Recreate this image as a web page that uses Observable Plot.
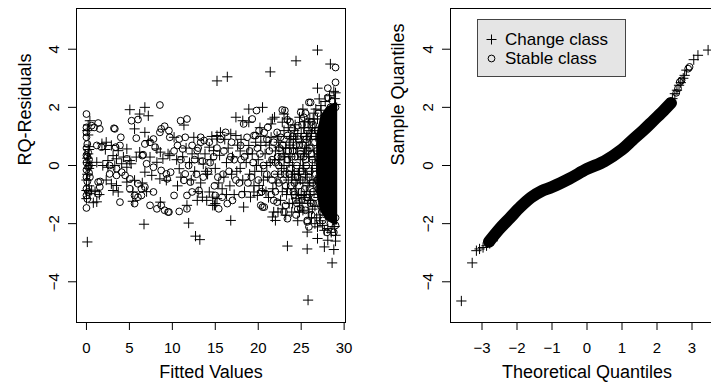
<!DOCTYPE html>
<html><head><meta charset="utf-8">
<script src="https://cdn.jsdelivr.net/npm/d3@7"></script>
<script src="https://cdn.jsdelivr.net/npm/@observablehq/plot@0.6"></script>
<style>
html,body{margin:0;padding:0;background:#fff;}
#wrap{position:relative;width:711px;height:385px;overflow:hidden;font-family:"Liberation Sans",Arial,Helvetica,sans-serif;}
#left{position:absolute;left:0;top:0;width:360px;height:385px;}
#right{position:absolute;left:360px;top:0;width:378px;height:385px;}
#wrap svg{max-width:none !important;}
#legend{position:absolute;left:477px;top:19px;width:147px;height:56px;background:#e5e5e5;border:1px solid #444;box-sizing:content-box;}
#legend .row{position:absolute;left:0;height:19px;font-size:17px;line-height:19px;color:#000;white-space:nowrap;}
#legend svg{position:absolute;left:0;top:0;}
</style></head><body>
<div id="wrap"><div id="left"></div><div id="right"></div><div id="legend"></div></div>
<script>
// ---------- data ----------
const xTitleLeft = "Fitted Values";
const yTitleLeft = "RQ-Residuals";
const xTitleRight = "Theoretical Quantiles";
const yTitleRight = "Sample Quantiles";
const legendLabels = ["Change class", "Stable class"];
const xTicksLeft = [0, 5, 10, 15, 20, 25, 30];
const xTicksRight = [-3, -2, -1, 0, 1, 2, 3];
const yTicks = [-4, -2, 0, 2, 4];

// residual vs fitted, change class (+)
const changePts = [
[0.1,1.2],[0.2,1.05],[0.4,1.54],[0.2,1.39],[0.3,0.55],[0.1,0.25],[0.2,0.1],[0.3,-0.1],[0.1,-0.3],[0.0,-0.86],[0.4,-0.97],[0.0,-1.14],[0.8,-1.28],[0.1,-2.63],[0.3,0.65],[0.5,0.0],[0.6,-0.85],[1.0,-0.9],[1.2,-1.25],[1.8,0.75],[2.3,0.8],[2.9,0.69],[2.2,0.55],[1.2,0.11],[1.9,0.0],[2.5,-0.06],[2.3,-0.5],[2.9,-0.63],[3.1,0.34],[3.5,0.23],[4.3,0.29],[2.5,0.17],[3.7,0.51],[4.7,0.57],[4.1,0.06],[4.7,-0.06],[5.2,0.06],[5.05,0.17],[5.8,0.29],[3.5,-0.69],[4.7,-0.57],[5.6,-0.51],[3.1,-0.86],[3.7,-0.91],[5.4,-0.91],[5.4,-1.23],[5.05,1.92],[6.8,2.0],[6.2,1.77],[7.2,1.71],[5.6,1.26],[6.8,1.14],[7.2,0.86],[8.2,0.57],[8.6,0.46],[9.5,0.4],[6.2,0.46],[7.4,0.29],[8.2,0.11],[8.9,0.23],[9.7,0.34],[6.8,-0.23],[7.6,-0.34],[8.55,-0.46],[9.3,-0.51],[8.6,-1.26],[6.7,-2.02],[3.3,0.0],[1.5,-1.0],[6.5,-0.6],[7.0,-0.9],[0.2,0.4],[0.0,-0.5],[0.3,-0.7],
[11.35,1.39],[17.4,1.66],[18.2,1.54],[18.9,1.49],[18.9,1.94],[10.2,0.97],[15.2,0.91],[15.6,1.14],[16.8,1.09],[17.4,1.03],[18.9,0.69],[19.7,0.8],[14.3,0.63],[14.8,0.51],[10.8,-0.11],[11.0,-0.4],[14.3,-0.91],[14.7,-1.09],[15.2,-1.14],[11.7,-1.37],[12.9,-1.2],[13.5,-1.09],[14.9,-1.37],[15.0,-1.31],[18.3,-1.43],[19.1,-1.09],[11.9,-1.98],[12.7,-2.43],[13.2,-2.55],[16.8,-1.89],[14.7,-1.37],[15.2,2.91],[16.4,3.05],[12.5,0.97],[15.2,1.03],[10.5,0.2],[11.2,0.3],[12.0,0.1],[12.6,-0.2],[13.0,0.25],[13.6,0.05],[14.1,-0.3],[14.5,0.2],[15.0,-0.1],[15.5,0.35],[16.0,-0.4],[16.3,0.1],[16.7,-0.7],[17.0,0.3],[17.5,-0.2],[17.9,0.5],[18.2,-0.5],[18.6,0.1],[19.0,-0.3],[19.3,0.4],[13.3,-0.6],[12.2,-0.5],[10.6,-0.7],[15.8,-0.8],[17.2,-1.0],[18.0,0.9],[16.5,0.6],[13.8,0.4],[11.6,0.6],[19.5,-0.7],
[12.3,0.4],[13.0,-0.9],[13.9,-0.2],[14.6,1.0],[15.4,-0.6],[16.1,0.9],[16.9,-0.3],[17.6,0.7],[18.4,-0.9],[18.8,0.4],[19.6,-0.2],[20.9,-0.9],[21.3,0.7],[20.3,1.0],[17.9,-0.1],[16.3,-1.0],[14.0,-1.2],
[20.5,2.0],[21.65,1.6],[21.5,1.43],[21.9,1.66],[23.0,1.77],[23.4,1.6],[22.8,1.49],[21.5,0.97],[20.9,0.8],[20.3,0.69],[22.4,0.63],[23.6,0.8],[24.4,0.91],[24.8,1.66],[25.2,1.94],[21.4,3.22],[24.4,3.6],[19.5,-0.91],[19.9,-1.03],[20.5,-0.86],[20.1,-0.69],[21.65,-1.77],[22.0,-1.89],[22.8,-1.49],[23.2,-1.71],[23.6,-1.31],[24.4,-1.14],[24.8,-1.26],[25.2,-1.54],[25.0,-1.03],[21.8,-1.6],[23.4,-2.77],[25.7,-2.87],[25.7,-2.29],[25.8,-4.63],
[20.0,0.2],[20.4,-0.2],[20.8,0.4],[21.1,-0.4],[21.4,0.1],[21.7,-0.8],[22.0,0.5],[22.3,-0.3],[22.5,0.2],[22.8,-0.9],[23.0,0.0],[23.2,0.6],[23.5,-0.5],[23.7,0.3],[24.0,-0.2],[24.2,1.2],[24.3,-0.8],[24.6,0.4],[24.9,-0.5],[25.1,0.8],[25.3,-0.1],[20.2,1.3],[22.2,1.0],[23.9,-1.6],[24.6,-1.9],[21.2,-1.1],[22.6,-1.2],[19.8,0.0],[20.6,-0.5],[21.9,0.2],[23.3,-0.2],[24.1,0.6],[24.7,-0.3],[25.4,0.5],[25.2,-0.6],[22.9,0.4],[21.0,0.0],[23.8,1.0],
[22.1,-0.6],[22.4,0.8],[22.7,-0.1],[23.0,1.2],[23.3,-1.0],[23.6,0.1],[23.9,-0.4],[24.1,0.9],[24.4,-0.6],[24.6,1.1],[24.9,0.2],[25.1,-1.3],[25.3,1.3],[25.5,-0.3],[25.6,0.6],[25.8,-0.7],[25.9,0.3],[26.0,-1.0],[26.1,0.9],[26.2,-0.2],[26.3,1.3],[26.4,-0.6],[26.5,0.5],[26.6,-1.4],[26.7,1.0],[26.8,-0.1],[26.9,1.6],[27.0,-1.1],[27.1,0.4],[27.2,-1.9],[27.3,1.9],[27.4,-0.5],[24.0,-1.3],[23.5,1.3],[22.3,-1.6],[24.8,-1.6],[25.4,1.5],[25.9,-1.6],[26.4,1.6],[26.8,-1.8],
[23.1,0.3],[23.4,-0.8],[23.7,0.7],[24.0,0.0],[24.2,-0.3],[24.5,0.6],[24.7,-1.0],[25.0,1.1],[25.2,0.0],[25.4,-1.1],[25.6,1.0],[25.7,-0.4],[25.9,0.7],[26.0,-0.6],[26.2,1.1],[26.3,0.0],[26.5,-0.9],[26.6,1.3],[26.7,-0.5],[26.9,0.3],[27.0,1.2],[27.1,-1.4],[25.3,0.4],[24.8,-0.2],[24.3,1.4],[23.9,-1.0],[25.8,1.5],[26.1,-1.2],[26.6,0.2],[27.2,1.0],
[26.9,3.97],[28.4,3.49],[26.9,2.66],[28.8,2.55],[29.0,2.5],[27.1,2.29],[27.3,2.06],[26.7,1.94],[26.9,-2.11],[27.5,-2.06],[28.1,-2.17],[27.7,-2.23],[26.9,-2.51],[28.1,-2.57],[27.7,-2.8],[28.8,-2.89],[28.6,-3.35],[29.0,-2.4],[28.5,-2.3],[26.0,1.6],[26.3,-1.5],[25.9,1.2],[26.5,1.8],[27.8,2.2],[28.9,2.3],[26.2,-1.8],[27.2,-1.7],[25.8,-1.3],[28.3,2.4],[26.6,-2.0],[25.6,-0.9],[25.7,1.0],[29.0,-2.6],[29.0,2.1],[28.9,-2.1]
];

// residual vs fitted, stable class (o)
const stablePts = [
[0.0,1.77],[0.0,1.31],[0.0,1.14],[0.0,0.97],[0.1,0.74],[0.0,0.6],[0.2,0.45],[0.0,0.35],[0.3,0.2],[0.0,0.1],[0.2,-0.05],[0.0,-0.15],[0.3,-0.25],[0.0,-0.4],[0.1,-0.55],[0.0,-0.8],[0.2,-0.91],[0.0,-1.03],[0.1,-1.15],[0.0,-1.46],[0.3,0.0],[0.1,0.3],[0.4,-0.4],[0.6,1.37],[0.9,1.31],[1.36,1.46],[1.55,1.26],[3.3,1.26],[1.2,0.69],[1.75,0.63],[3.9,0.69],[3.4,0.63],[4.0,0.97],[2.7,0.0],[3.5,-0.11],[2.7,-0.29],[3.5,-0.34],[4.1,-0.23],[1.36,-0.57],[1.55,-0.74],[1.36,-0.97],[4.5,-0.34],[5.05,-0.46],[6.0,-0.63],[6.4,-0.8],[6.8,-0.74],[7.8,-0.91],[5.05,-0.8],[5.6,-1.03],[6.0,-1.09],[6.4,-1.03],[3.9,-1.26],[5.6,-1.31],[7.4,-1.37],[8.2,-1.49],[8.7,-1.37],[9.1,-1.54],[9.5,-1.6],[8.55,2.08],[5.25,1.54],[6.0,1.58],[8.7,1.26],[9.1,1.35],[8.55,1.14],[7.8,0.91],[9.7,0.97],[5.8,0.94],[6.8,0.74],[7.4,0.8],[8.0,0.63],[6.6,0.37],[4.7,0.23],[7.0,0.06],[7.8,-0.06],[8.7,-0.17],[9.3,-0.29],[1.6,-0.55],[3.2,1.28],[6.5,0.34],
[10.96,1.54],[11.7,1.6],[19.8,1.89],[18.3,1.43],[19.3,1.6],[9.6,1.2],[10.8,0.91],[11.5,0.97],[13.3,0.97],[13.7,0.86],[16.2,1.14],[17.95,0.69],[18.7,0.97],[19.5,1.03],[10.6,0.69],[11.2,0.57],[12.3,0.69],[12.9,0.51],[9.8,-0.23],[9.4,-0.46],[11.5,-0.29],[11.35,-0.51],[12.1,-0.57],[13.1,-0.86],[15.0,-1.03],[15.8,-1.09],[11.7,-1.03],[12.3,-0.91],[10.2,-1.03],[9.6,-1.6],[10.8,-1.58],[11.7,-1.49],[15.4,-1.49],[16.4,-1.31],[11.0,0.2],[11.9,0.0],[13.5,0.15],[14.2,-0.2],[14.8,0.3],[15.3,-0.4],[16.0,0.5],[16.6,-0.2],[17.2,0.2],[17.8,-0.6],[18.4,0.3],[19.0,0.5],[12.8,-0.3],[10.2,0.5],[13.3,0.8],[14.3,0.8],[15.6,0.9],[16.9,0.8],[18.1,-1.0],[19.2,-0.4],
[12.6,0.2],[13.6,-0.4],[14.4,0.1],[15.2,0.6],[15.9,-0.3],[16.8,0.3],[17.4,-0.5],[18.0,0.2],[18.8,-0.6],[19.4,0.1],[20.4,-0.9],[21.0,0.9],[21.6,0.2],[19.9,0.6],[17.0,-1.2],[14.9,-0.7],[13.0,0.6],
[22.8,1.91],[23.1,1.89],[23.4,1.57],[21.1,1.31],[20.7,1.14],[19.7,1.03],[20.1,1.2],[22.2,1.14],[22.6,0.97],[21.8,0.8],[23.4,1.03],[24.0,1.26],[24.6,1.37],[24.95,1.83],[25.3,1.66],[25.9,2.17],[20.3,-1.37],[20.7,-1.43],[21.8,-1.2],[22.2,-1.26],[23.0,-1.6],[23.2,-1.37],[24.95,-1.49],[25.5,-1.54],[25.7,-1.89],[25.9,-2.11],[25.7,-1.94],[20.5,-1.43],[23.4,-1.83],
[20.2,0.4],[20.6,0.0],[21.0,-0.3],[21.3,0.5],[21.6,-0.5],[22.0,0.1],[22.4,-0.6],[22.7,0.3],[23.1,-0.3],[23.4,0.2],[23.8,-0.7],[24.0,0.5],[24.3,-0.4],[24.5,0.0],[24.8,0.7],[25.0,-0.9],[25.3,0.3],[21.5,-1.0],[23.0,0.9],[24.2,-1.0],[20.0,-0.5],[22.5,0.6],
[22.0,-0.9],[22.3,0.3],[22.6,-0.3],[22.9,0.7],[23.2,-0.7],[23.5,0.5],[23.8,-0.1],[24.1,-0.9],[24.3,0.3],[24.5,-1.3],[24.7,0.9],[25.0,-0.2],[25.2,0.7],[25.4,-0.8],[25.6,0.0],[25.7,1.2],[25.9,-0.4],[26.0,0.6],[26.1,-1.3],[26.3,0.2],[26.4,-0.9],[26.6,0.8],[26.7,-0.3],[26.9,1.2],[27.0,-0.8],[27.2,0.7],[27.3,-1.4],[27.5,1.4],[23.7,1.5],[24.4,-1.7],[25.5,1.8],[26.2,-1.7],
[23.3,0.5],[23.6,-0.3],[23.9,0.3],[24.2,-0.6],[24.4,0.7],[24.6,-0.4],[24.9,0.4],[25.1,-0.5],[25.3,1.0],[25.5,0.2],[25.6,-1.1],[25.8,0.5],[26.0,-0.2],[26.2,0.4],[26.3,-0.6],[26.5,1.0],[26.6,-1.1],[26.8,0.5],[26.9,-0.5],[27.1,0.1],[25.1,1.4],[24.0,1.0],[24.6,-1.5],[26.4,1.4],[27.3,-1.0],[22.9,-0.5],[22.4,0.0],[21.9,-0.3],
[29.0,3.37],[29.0,2.86],[28.1,2.66],[26.1,2.17],[28.1,2.34],[28.6,2.23],[28.4,2.0],[27.5,-1.89],[28.4,-2.0],[29.0,-2.06],[28.8,-2.3],[26.2,1.5],[27.0,1.8],[26.4,-1.3],[27.4,-1.6],[25.8,-1.1],[28.0,-2.3],[29.0,2.0],[29.0,-1.8],[25.6,0.9]
];

// solid black core of overlapping markers (fitted, lower residual, upper residual)
const coreX  = [26.8, 27.3, 28.0, 28.6, 29.0, 29.25];
const coreLo = [-0.9, -1.6, -1.9, -2.0, -2.05, -2.05];
const coreHi = [1.0, 1.7, 2.0, 2.1, 2.15, 2.15];

// QQ plot: dense band of overlapping markers (theoretical, sample)
const bandT = [-2.8, -2.5, -2.2, -1.9, -1.6, -1.3, -1.0, -0.5, 0.0, 0.5, 1.0, 1.3, 1.6, 1.9, 2.2, 2.4];
const bandS = [-2.62, -2.18, -1.8, -1.42, -1.1, -0.88, -0.74, -0.45, -0.12, 0.15, 0.55, 0.88, 1.2, 1.55, 1.9, 2.15];
// QQ plot tails
const qqChange = [[-3.59,-4.66],[-3.28,-3.35],[-3.16,-2.93],[-3.07,-2.87],[-2.97,-2.82],[-2.87,-2.76],[-2.78,-2.68],[-2.69,-2.59],[3.46,3.97],[3.17,3.79],[3.05,3.64],[2.84,3.28],[2.79,3.10],[2.63,2.76],[2.57,2.59],[2.51,2.47],[2.44,2.30],[2.75,3.0],[2.68,2.85]];
const qqStable = [[2.93,3.39],[2.70,2.93],[2.65,2.87],[2.89,3.33],[2.6,2.65],[2.55,2.5]];

// ---------- drawing ----------
const font = '"Liberation Sans", Arial, Helvetica, sans-serif';
const core = coreX.map((x, i) => ({x, lo: coreLo[i], hi: coreHi[i]}));
const band = bandT.map((t, i) => ({t, s: bandS[i]}));
const R = 3.4;

const commonStyle = {fontFamily: font, fontSize: "15px", background: "white", color: "black", overflow: "visible"};

const leftPlot = Plot.plot({
  width: 360, height: 385,
  marginLeft: 76, marginRight: 15, marginTop: 8, marginBottom: 63,
  style: commonStyle,
  x: {domain: [-1.16, 30.16]},
  y: {domain: [-5.4, 5.4]},
  marks: [
    Plot.areaY(core, {x: "x", y1: "lo", y2: "hi", fill: "black"}),
    Plot.dot(stablePts, {x: d => d[0], y: d => d[1], symbol: "circle", r: R, stroke: "black", fill: "none", strokeWidth: 1}),
    Plot.dot(changePts, {x: d => d[0], y: d => d[1], symbol: "plus", r: R, stroke: "black", strokeWidth: 1}),
    Plot.frame({stroke: "black"}),
    Plot.axisX({ticks: xTicksLeft, tickSize: 8, tickPadding: 12, label: null}),
    Plot.axisY({ticks: yTicks, tickSize: 8, tickPadding: 10, tickRotate: -90, label: null}),
    Plot.text([xTitleLeft], {text: d => d, frameAnchor: "bottom", dy: 55, lineAnchor: "bottom", fontSize: 18}),
    Plot.text([yTitleLeft], {text: d => d, frameAnchor: "left", dx: -46, rotate: -90, lineAnchor: "bottom", fontSize: 18})
  ]
});
document.getElementById("left").appendChild(leftPlot);

const rightPlot = Plot.plot({
  width: 378, height: 385,
  marginLeft: 90, marginRight: 15, marginTop: 8, marginBottom: 63,
  style: commonStyle,
  x: {domain: [-3.9, 3.9]},
  y: {domain: [-5.4, 5.4]},
  marks: [
    Plot.line(band, {x: "t", y: "s", stroke: "black", strokeWidth: 12, strokeLinecap: "round", strokeLinejoin: "round", curve: "catmull-rom"}),
    Plot.dot(qqStable, {x: d => d[0], y: d => d[1], symbol: "circle", r: R, stroke: "black", fill: "none", strokeWidth: 1}),
    Plot.dot(qqChange, {x: d => d[0], y: d => d[1], symbol: "plus", r: R, stroke: "black", strokeWidth: 1}),
    Plot.frame({stroke: "black"}),
    Plot.axisX({ticks: xTicksRight, tickSize: 8, tickPadding: 12, label: null}),
    Plot.axisY({ticks: yTicks, tickSize: 8, tickPadding: 10, tickRotate: -90, label: null}),
    Plot.text([xTitleRight], {text: d => d, frameAnchor: "bottom", dy: 55, lineAnchor: "bottom", fontSize: 18}),
    Plot.text([yTitleRight], {text: d => d, frameAnchor: "left", dx: -47, rotate: -90, lineAnchor: "bottom", fontSize: 18})
  ]
});
document.getElementById("right").appendChild(rightPlot);

// legend (R-style boxed key)
const lg = document.getElementById("legend");
const ns = "http://www.w3.org/2000/svg";
const svg = document.createElementNS(ns, "svg");
svg.setAttribute("width", 30); svg.setAttribute("height", 56);
const plus = document.createElementNS(ns, "path");
plus.setAttribute("d", "M8.5,19.5h10M13.5,14.5v10");
plus.setAttribute("stroke", "black"); plus.setAttribute("fill", "none");
svg.appendChild(plus);
const circ = document.createElementNS(ns, "circle");
circ.setAttribute("cx", 13.5); circ.setAttribute("cy", 38.5); circ.setAttribute("r", 3.4);
circ.setAttribute("stroke", "black"); circ.setAttribute("fill", "none");
svg.appendChild(circ);
lg.appendChild(svg);
legendLabels.forEach((t, i) => {
  const d = document.createElement("div");
  d.className = "row";
  d.textContent = t;
  d.style.left = "27px";
  d.style.top = (10 + 19 * i) + "px";
  lg.appendChild(d);
});
</script>
</body></html>
